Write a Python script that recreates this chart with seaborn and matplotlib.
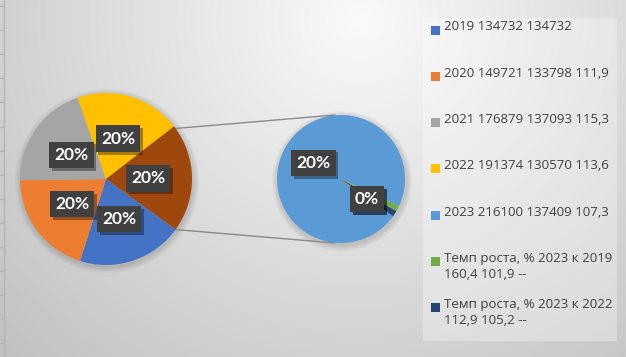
import numpy as np
import matplotlib
matplotlib.use("Agg")
import matplotlib.pyplot as plt
import matplotlib.patheffects as pe
from matplotlib.patches import Rectangle, Circle
import seaborn as sns

sns.set_theme(style="white")
plt.rcParams['font.family'] = ['Lato', 'DejaVu Sans']

# legend labels (category text as in the sheet)
labels = ["2019 134732 134732",
          "2020 149721 133798 111,9",
          "2021 176879 137093 115,3",
          "2022 191374 130570 113,6",
          "2023 216100 137409 107,3",
          "Темп роста, % 2023 к 2019\n160,4 101,9 --",
          "Темп роста, % 2023 к 2022\n112,9 105,2 --"]
# shares of each point (labels show 20% and 0%)
shares = [20, 20, 20, 20, 20, 0.3, 0.3]
colors = ["#4472C4", "#ED7D31", "#A5A5A5", "#FFC000", "#5B9BD5", "#70AD47", "#264478"]
other_color = "#9E480E"
n_main = 4  # the last three points go to the second pie

W, H = 626, 357
fig = plt.figure(figsize=(W / 100, H / 100), dpi=100)
ax = fig.add_axes([0, 0, 1, 1])

# gradient background like the excel chart area
xx, yy = np.meshgrid(np.arange(W), np.arange(H))
d = np.sqrt(((xx - 360) / 380.0) ** 2 + ((yy - 20) / 360.0) ** 2)
bright = np.clip(0.98 - 0.17 * d, 0.74, 1.0)
ax.imshow(np.dstack([bright] * 3), extent=[0, W, 0, H], origin="upper", zorder=0)

# sheet edge on the left
ax.plot([3.5, 3.5], [0, H], color="#b4b4b4", lw=1, zorder=1)
for ty in np.arange(6, H, 24.1):
    ax.plot([0, 3.5], [H - ty, H - ty], color="#b4b4b4", lw=1, zorder=1)

lbl_box = dict(boxstyle="square,pad=0.3", fc="#404040", ec="none")
shadow = [pe.SimplePatchShadow(offset=(2, -2), shadow_rgbFace="black", alpha=0.35), pe.Normal()]
txt_kw = dict(color="white", fontsize=12.5, fontweight="bold")

total = sum(shares)

def pct(v):
    return "{:.0f}%".format(v)

c1, r1 = (106, H - 179), 86
c2, r2 = (341, H - 179), 64

# soft shadow under both pies
for c, r in ((c1, r1), (c2, r2)):
    for k in range(1, 7):
        ax.add_patch(Circle((c[0] + 1, c[1] - 2), r + k, fc="black", ec="none",
                            alpha=0.025, zorder=2))

# first pie: four years + "other"
main_vals = shares[:n_main] + [sum(shares[n_main:])]
main_cols = colors[:n_main] + [other_color]
w1, t1, a1 = ax.pie(main_vals, colors=main_cols, startangle=-36, counterclock=False,
                    center=c1, radius=r1, autopct=pct, pctdistance=0.49,
                    wedgeprops=dict(linewidth=0), textprops=txt_kw)

# second pie
sec_vals = shares[n_main:]
sec_total = sum(sec_vals)
w2, t2, a2 = ax.pie(sec_vals, colors=colors[n_main:], startangle=-35.5, counterclock=False,
                    center=c2, radius=r2,
                    autopct=lambda p: pct(p * sec_total / total), pctdistance=0.5,
                    wedgeprops=dict(linewidth=0), textprops=txt_kw)
for w in list(w1) + list(w2):
    w.set_zorder(3)
for t in list(a1) + list(a2):
    t.set_bbox(lbl_box)
    t.get_bbox_patch().set_path_effects(shadow)
    t.set_zorder(5)
# excel moved the small labels a bit
for t in a2[1:]:
    t.set_position((c2[0] + 26, c2[1] - 20))
ax.plot([c2[0] + 1, c2[0] + 10], [c2[1] - 2, c2[1] - 8], color="#8a8a8a", lw=0.8, zorder=4)

# connector lines from the "other" slice to the second pie
ang = np.deg2rad(36)
for s in (1, -1):
    p1 = (c1[0] + r1 * np.cos(ang), c1[1] + s * r1 * np.sin(ang))
    p2 = (c2[0] - 6, c2[1] + s * r2)
    ax.plot([p1[0], p2[0]], [p1[1], p2[1]], color="#8a8a8a", lw=1, zorder=2)

# legend drawn like excel's
ax.add_patch(Rectangle((423, H - 341), 194, 323, fc="white", ec="none", alpha=0.3, zorder=1))
for i, (lab, col) in enumerate(zip(labels, colors)):
    y = H - (30 + i * 46.3)
    ax.add_patch(Rectangle((431, y - 4.5), 9, 9, fc=col, ec="none", zorder=4))
    ax.text(444, y + 9.5, lab, va="top", ha="left", fontsize=9.5, color="#404040",
            family=["Open Sans", "DejaVu Sans"], linespacing=1.3, zorder=4)

ax.set_xlim(0, W)
ax.set_ylim(0, H)
ax.set_aspect("auto")
ax.axis("off")
fig.savefig("out.png", dpi=100)
